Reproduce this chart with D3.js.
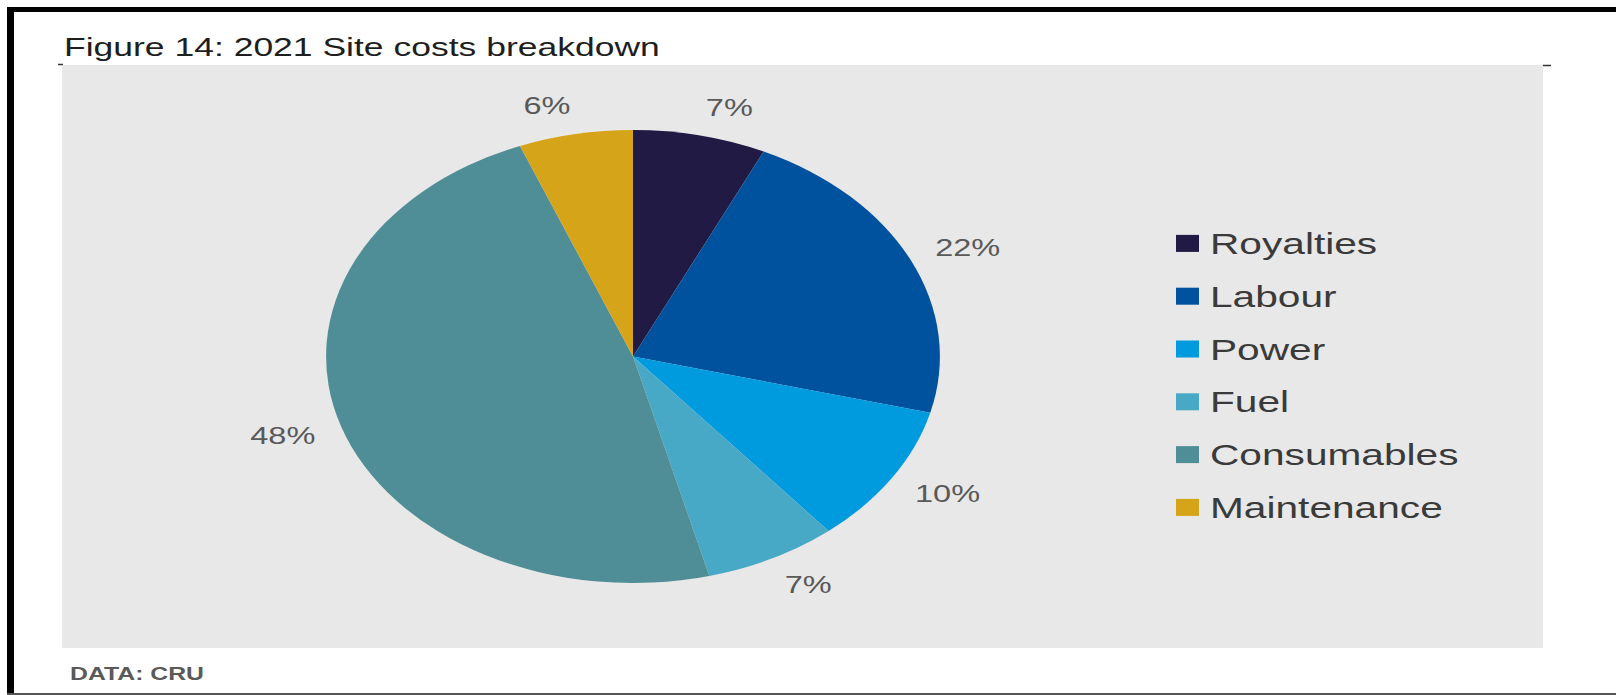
<!DOCTYPE html>
<html>
<head>
	<meta http-equiv="Content-Type" content="text/html; charset=utf-8"/>
	<title>Site costs breakdown</title>
	<style>
		body { margin: 0; background: #fff; }
		svg { display: block; }
		text { font-family: Arial, "Liberation Sans", sans-serif; }
	</style>
</head>
<body>
	<svg width="1616" height="695" id="viz"></svg>

	<script src="https://d3js.org/d3.v7.min.js"></script>
	<script>

		//Datos
		const categories = ["Royalties", "Labour", "Power", "Fuel", "Consumables", "Maintenance"];
		const shares = [7, 22, 10, 7, 48, 6];
		const colors = ["#201a44", "#00529e", "#009bde", "#48a9c6", "#508e97", "#d6a418"];
		const title = "Figure 14: 2021 Site costs breakdown";
		const source = "DATA: CRU";

		const width = 1616, height = 695;
		// the original picture is stretched sideways
		const sx = 1.355;
		const cx = 633, cy = 356.5, r = 226.5;

		var svg = d3.select("#viz");

		//Marco
		svg.append("rect").attr("x", 7).attr("y", 7).attr("width", width - 7).attr("height", 5).attr("fill", "#000");
		svg.append("rect").attr("x", 7).attr("y", 7).attr("width", 7).attr("height", height - 7).attr("fill", "#000");
		svg.append("rect").attr("x", 7).attr("y", 693).attr("width", width - 7).attr("height", 2).attr("fill", "#555");

		//Fondo gris
		svg.append("rect")
			.attr("x", 62).attr("y", 65)
			.attr("width", 1543 - 62).attr("height", 648 - 65)
			.attr("fill", "#e8e8e8");
		svg.append("line").attr("x1", 58).attr("x2", 63).attr("y1", 64.5).attr("y2", 64.5)
			.attr("stroke", "#333").attr("stroke-width", 1.5);
		svg.append("line").attr("x1", 1543).attr("x2", 1551).attr("y1", 65.5).attr("y2", 65.5)
			.attr("stroke", "#333").attr("stroke-width", 1.5);

		//Titulo y fuente
		svg.append("text")
			.attr("transform", `translate(64,56) scale(${sx},1)`)
			.attr("font-size", "26.2px")
			.attr("fill", "#1e1e1e")
			.text(title);

		svg.append("text")
			.attr("transform", `translate(70,680) scale(${sx},1)`)
			.attr("font-size", "18.3px")
			.attr("font-weight", "bold")
			.attr("fill", "#5a5a5a")
			.text(source);

		//Pie
		const data = categories.map((c, i) => ({name: c, value: shares[i], color: colors[i]}));
		const pie = d3.pie().sort(null).value(d => d.value);
		const arcs = pie(data);
		const arc = d3.arc().innerRadius(0).outerRadius(r);

		const g = svg.append("g").attr("transform", `translate(${cx},${cy}) scale(${sx},1)`);
		g.selectAll("path")
			.data(arcs)
			.enter()
			.append("path")
			.attr("d", arc)
			.attr("fill", d => d.data.color);

		//Etiquetas fuera del pie
		const gap = 20, hh = 9;
		arcs.forEach(function(d) {
			const a = (d.startAngle + d.endAngle) / 2;
			const dx = Math.sin(a), dy = -Math.cos(a);
			const px = dx * (r + gap);
			const py = dy * (r + gap) + dy * hh;
			svg.append("text")
				.attr("transform", `translate(${cx + px * sx},${cy + py}) scale(${sx},1)`)
				.attr("text-anchor", dx >= 0 ? "start" : "end")
				.attr("dominant-baseline", "central")
				.attr("font-size", "24px")
				.attr("fill", "#595959")
				.text(d.data.value + "%");
		});

		//Leyenda
		const y0 = 243.4, step = 52.8;
		const legend = svg.append("g");
		data.forEach(function(d, i) {
			const yc = y0 + i * step;
			legend.append("rect")
				.attr("x", 1176).attr("y", yc - 8.5)
				.attr("width", 23).attr("height", 17)
				.attr("fill", d.color);
			legend.append("text")
				.attr("transform", `translate(1210,${yc + 10.5}) scale(${sx},1)`)
				.attr("font-size", "30px")
				.attr("fill", "#3a3a3a")
				.text(d.name);
		});

	</script>
</body>
</html>
